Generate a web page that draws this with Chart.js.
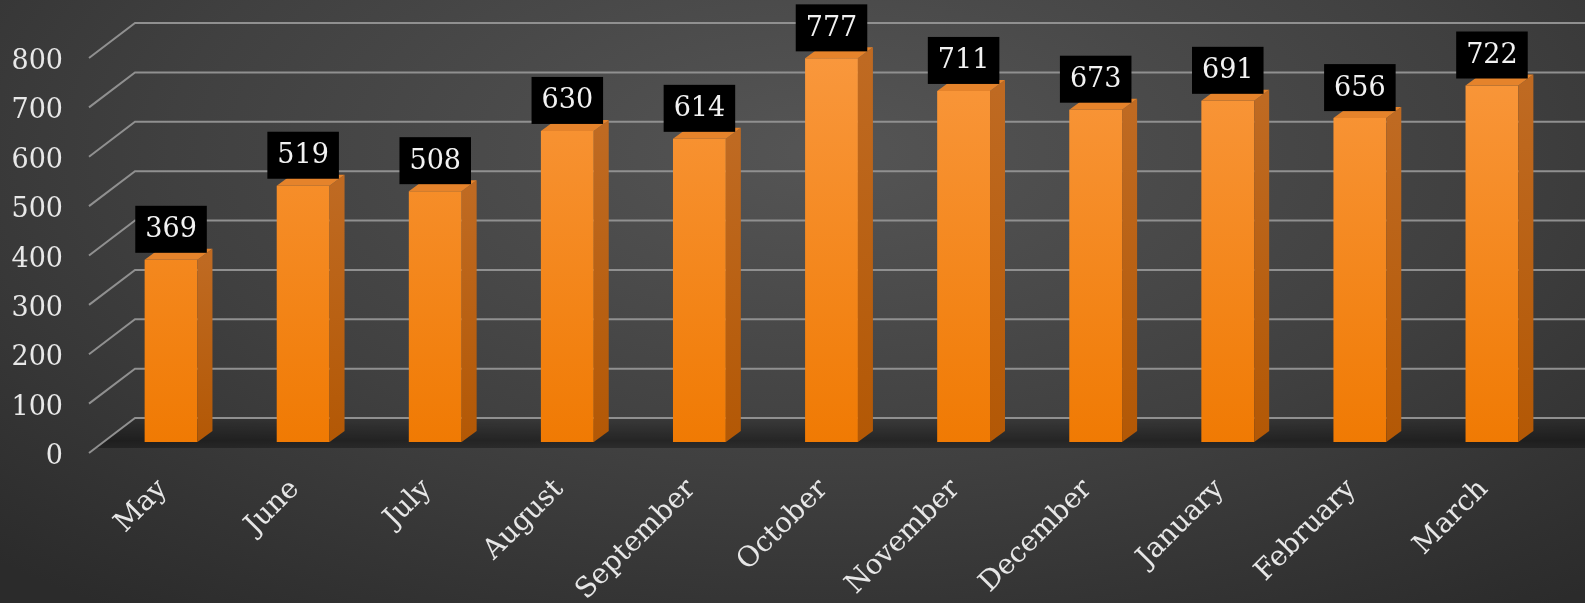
<!DOCTYPE html>
<html>
<head>
<meta charset="utf-8">
<script src="https://cdn.jsdelivr.net/npm/chart.js@4.4.1/dist/chart.umd.min.js"></script>
<style>
  html, body { margin: 0; padding: 0; }
  body {
    width: 1585px; height: 603px; overflow: hidden;
    background: radial-gradient(ellipse 75% 95% at 52% 25%, #555555 0%, #404040 55%, #2b2b2b 100%);
  }
</style>
</head>
<body>
<canvas id="chart" width="1585" height="603"></canvas>
<script>
// data
const months = ['May', 'June', 'July', 'August', 'September', 'October', 'November', 'December', 'January', 'February', 'March'];
const values = [369, 519, 508, 630, 614, 777, 711, 673, 691, 656, 722];
const yMin = 0;
const yMax = 800;
const yStep = 100;

const FONT = "'DejaVu Serif', 'Liberation Serif', serif";
const DEPTH = { dx: 15, dy: 11 };      // bar depth
const FRONT = { dx: -16, dy: 11 };     // front edge of the floor/axis
const BACK = { dx: 30, dy: -24 };      // back wall

// floor + perspective gridlines, behind the bars
const wallGrid = {
  id: 'wallGrid',
  beforeDatasetsDraw(chart) {
    const { ctx, chartArea, scales: { y } } = chart;
    const left = chartArea.left;
    const right = chart.width;
    const y0 = y.getPixelForValue(0);

    ctx.save();
    // floor
    const fg = ctx.createLinearGradient(0, y0 + BACK.dy, 0, y0 + 6);
    fg.addColorStop(0, 'rgba(0,0,0,0.12)');
    fg.addColorStop(0.75, 'rgba(0,0,0,0.42)');
    fg.addColorStop(1, 'rgba(0,0,0,0.3)');
    ctx.fillStyle = fg;
    ctx.beginPath();
    ctx.moveTo(left + FRONT.dx + 5, y0 + 6);
    ctx.lineTo(left + BACK.dx, y0 + BACK.dy);
    ctx.lineTo(right, y0 + BACK.dy);
    ctx.lineTo(right, y0 + 6);
    ctx.closePath();
    ctx.fill();

    ctx.strokeStyle = '#909090';
    ctx.lineWidth = 2;
    y.ticks.forEach(t => {
      const py = y.getPixelForValue(t.value);
      ctx.beginPath();
      ctx.moveTo(left + FRONT.dx, py + FRONT.dy);
      ctx.lineTo(left + BACK.dx, py + BACK.dy);
      ctx.lineTo(right, py + BACK.dy);
      ctx.stroke();
    });
    ctx.restore();
  }
};

// side and top faces
const bar3d = {
  id: 'bar3d',
  afterDatasetsDraw(chart) {
    const ctx = chart.ctx;
    ctx.save();
    chart.getDatasetMeta(0).data.forEach(bar => {
      const { x, y, base, width } = bar.getProps(['x', 'y', 'base', 'width'], true);
      const l = x - width / 2, r = x + width / 2;

      const sg = ctx.createLinearGradient(0, y, 0, base);
      sg.addColorStop(0, '#bf6a22');
      sg.addColorStop(1, '#b35805');
      ctx.fillStyle = sg;
      ctx.beginPath();
      ctx.moveTo(r, y);
      ctx.lineTo(r + DEPTH.dx, y - DEPTH.dy);
      ctx.lineTo(r + DEPTH.dx, base - DEPTH.dy);
      ctx.lineTo(r, base);
      ctx.closePath();
      ctx.fill();

      ctx.fillStyle = '#e5832b';
      ctx.beginPath();
      ctx.moveTo(l, y);
      ctx.lineTo(l + DEPTH.dx, y - DEPTH.dy);
      ctx.lineTo(r + DEPTH.dx, y - DEPTH.dy);
      ctx.lineTo(r, y);
      ctx.closePath();
      ctx.fill();
    });
    ctx.restore();
  }
};

// value boxes
const valueBoxes = {
  id: 'valueBoxes',
  afterDraw(chart) {
    const ctx = chart.ctx;
    ctx.save();
    ctx.font = '27px ' + FONT;
    ctx.textAlign = 'center';
    ctx.textBaseline = 'middle';
    chart.getDatasetMeta(0).data.forEach((bar, i) => {
      const txt = String(values[i]);
      const w = ctx.measureText(txt).width + 20;
      const h = 47;
      const bottom = bar.y - 7;
      ctx.fillStyle = '#000';
      ctx.fillRect(bar.x - w / 2, bottom - h, w, h);
      ctx.fillStyle = '#f2f2f2';
      ctx.fillText(txt, bar.x, bottom - h / 2 + 1);
    });
    ctx.restore();
  }
};

new Chart(document.getElementById('chart'), {
  type: 'bar',
  data: {
    labels: months,
    datasets: [{
      data: values,
      backgroundColor: ctx => {
        const area = ctx.chart.chartArea;
        if (!area) return '#f28020';
        const g = ctx.chart.ctx.createLinearGradient(0, area.top, 0, area.bottom);
        g.addColorStop(0, '#f9983e');
        g.addColorStop(1, '#f07a03');
        return g;
      },
      borderWidth: 0,
      barPercentage: 0.8,
      categoryPercentage: 0.5
    }]
  },
  options: {
    responsive: false,
    animation: false,
    devicePixelRatio: 1,
    layout: { padding: { top: 47, right: 27, left: 0, bottom: 0 } },
    plugins: { legend: { display: false }, tooltip: { enabled: false } },
    scales: {
      x: {
        grid: { display: false, drawTicks: false },
        border: { display: false },
        ticks: {
          color: '#e6e6e6',
          font: { family: FONT, size: 28 },
          minRotation: 45,
          maxRotation: 45,
          padding: 31,
          labelOffset: -8
        },
        afterFit: s => { s.height = 161; }
      },
      y: {
        min: yMin,
        max: yMax,
        grid: { display: false, drawTicks: false },
        border: { display: false },
        ticks: {
          stepSize: yStep,
          color: '#e8e8e8',
          font: { family: FONT, size: 27 },
          padding: 42,
          labelOffset: 15
        },
        afterFit: s => {
          s.width = 105;
          // the big label padding should not push the plot down
          s.paddingTop = 0;
          s.paddingBottom = 0;
        }
      }
    }
  },
  plugins: [wallGrid, bar3d, valueBoxes]
});
</script>
</body>
</html>
